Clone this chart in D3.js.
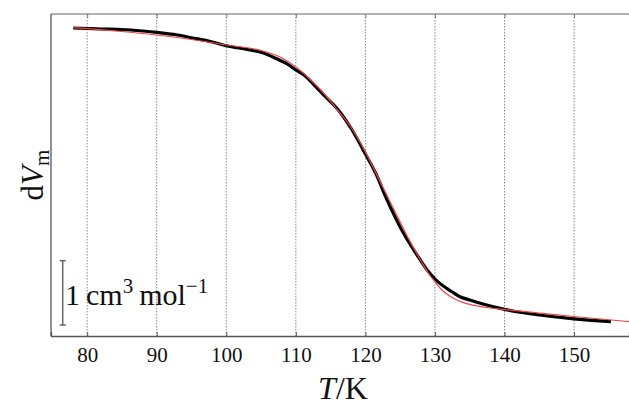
<!DOCTYPE html>
<html><head><meta charset="utf-8">
<script src="https://cdn.jsdelivr.net/npm/d3@7"></script>
<style>body{margin:0;background:#fff}svg{display:block}</style>
</head><body>
<script>
// Data (T in K, dV in cm^3 mol^-1, relative offset)
const dataT = [78,80,82,85,88,90,93,95,98,100,103,105,107,109,110,111,112.5,114,116.3,118,120,121.8,122.5,124,125,126.5,127.8,129,130,132.5,133.6,135,136.9,140,142.5,145,147.5,150,152.5,155.3];
const dataV = [4.783,4.775,4.767,4.759,4.736,4.716,4.674,4.632,4.565,4.508,4.449,4.405,4.317,4.208,4.130,4.068,3.913,3.742,3.483,3.214,2.826,2.453,2.267,1.910,1.693,1.413,1.196,1.009,0.885,0.683,0.610,0.559,0.497,0.414,0.365,0.326,0.295,0.267,0.244,0.222];
const fitT = [78,80,85,90,95,100,105,108,110,112,114,116,118,120,122,124,126,128,129,130,131,132,133,134,135,136,138,140,145,150,155,158];
const fitV = [4.787,4.773,4.728,4.674,4.604,4.519,4.433,4.317,4.177,3.991,3.773,3.509,3.230,2.857,2.422,1.988,1.553,1.165,0.986,0.839,0.714,0.629,0.567,0.523,0.492,0.469,0.435,0.411,0.357,0.303,0.252,0.222];
const xTicks = [80,90,100,110,120,130,140,150];
const scaleBar = [0.17, 1.17];

const W = 629, H = 407;
const svg = d3.select("body").append("svg").attr("width", W).attr("height", H);
const pL = 51, pR = 629, pT = 14, pB = 336;
const x = d3.scaleLinear().domain([74.8, 157.9]).range([pL, pR]);
const y = d3.scaleLinear().domain([0, 5]).range([pB, pT]);
const font = "'Liberation Serif', 'DejaVu Serif', serif";

// grid
svg.append("g").selectAll("line").data(xTicks).join("line")
  .attr("x1", d => x(d)).attr("x2", d => x(d))
  .attr("y1", pT).attr("y2", pB)
  .attr("stroke", "#8a8a8a").attr("stroke-width", 1).attr("stroke-dasharray", "1.5,1.5");

// spines
const sp = "#555";
svg.append("line").attr("x1", pL).attr("x2", pR).attr("y1", pT).attr("y2", pT).attr("stroke", "#999").attr("stroke-width", 1.5);
svg.append("line").attr("x1", pL).attr("x2", pL).attr("y1", pT).attr("y2", pB).attr("stroke", sp).attr("stroke-width", 1.3);

// bottom axis
const xAxis = d3.axisBottom(x).tickValues(xTicks).tickSize(-4).tickPadding(11).tickFormat(d3.format("d"));
const gx = svg.append("g").attr("transform", `translate(0,${pB})`).call(xAxis);
gx.select(".domain").attr("stroke", sp).attr("stroke-width", 1.3);
gx.selectAll(".tick line").attr("stroke", sp);
gx.selectAll("text").attr("font-family", font).attr("font-size", 21).attr("fill", "#111");
// top ticks
const gt = svg.append("g").attr("transform", `translate(0,${pT})`).call(d3.axisTop(x).tickValues(xTicks).tickSize(-4).tickFormat(""));
gt.select(".domain").remove();
gt.selectAll(".tick line").attr("stroke", "#777");

// curves
const line = d3.line().curve(d3.curveMonotoneX);
svg.append("path").attr("d", line(dataT.map((t, i) => [x(t), y(dataV[i])])))
  .attr("fill", "none").attr("stroke", "#000").attr("stroke-width", 3.2).attr("stroke-linejoin", "round");
svg.append("path").attr("d", line(fitT.map((t, i) => [x(t), y(fitV[i])])))
  .attr("fill", "none").attr("stroke", "#f04545").attr("stroke-width", 1.2);

// scale bar
const bx = 62.7;
const bar = svg.append("g").attr("stroke", "#666").attr("stroke-width", 1.5);
bar.append("line").attr("x1", bx).attr("x2", bx).attr("y1", y(scaleBar[0])).attr("y2", y(scaleBar[1]));
bar.append("line").attr("x1", bx - 3).attr("x2", bx + 3).attr("y1", y(scaleBar[0])).attr("y2", y(scaleBar[0]));
bar.append("line").attr("x1", bx - 3).attr("x2", bx + 3).attr("y1", y(scaleBar[1])).attr("y2", y(scaleBar[1]));
const st = svg.append("text").attr("x", 65).attr("y", 305).attr("font-family", font).attr("font-size", 30).attr("fill", "#111");
st.append("tspan").text("1\u2009cm");
st.append("tspan").attr("dy", -12).attr("font-size", 21).text("3");
st.append("tspan").attr("dy", 12).attr("dx", 6).text("mol");
st.append("tspan").attr("dy", -12).attr("font-size", 21).text("\u22121");

// x label
const xl = svg.append("text").attr("x", 343).attr("y", 399).attr("text-anchor", "middle")
  .attr("font-family", font).attr("font-size", 32).attr("fill", "#111");
xl.append("tspan").attr("font-style", "italic").text("T");
xl.append("tspan").text("/K");

// y label
const yl = svg.append("text").attr("transform", `translate(43,${(pT + pB) / 2}) rotate(-90)`)
  .attr("text-anchor", "middle").attr("font-family", font).attr("font-size", 31).attr("fill", "#111");
yl.append("tspan").text("d");
yl.append("tspan").attr("font-style", "italic").text("V");
yl.append("tspan").attr("dy", 6).attr("font-size", 21).text("m");
</script>
</body></html>
